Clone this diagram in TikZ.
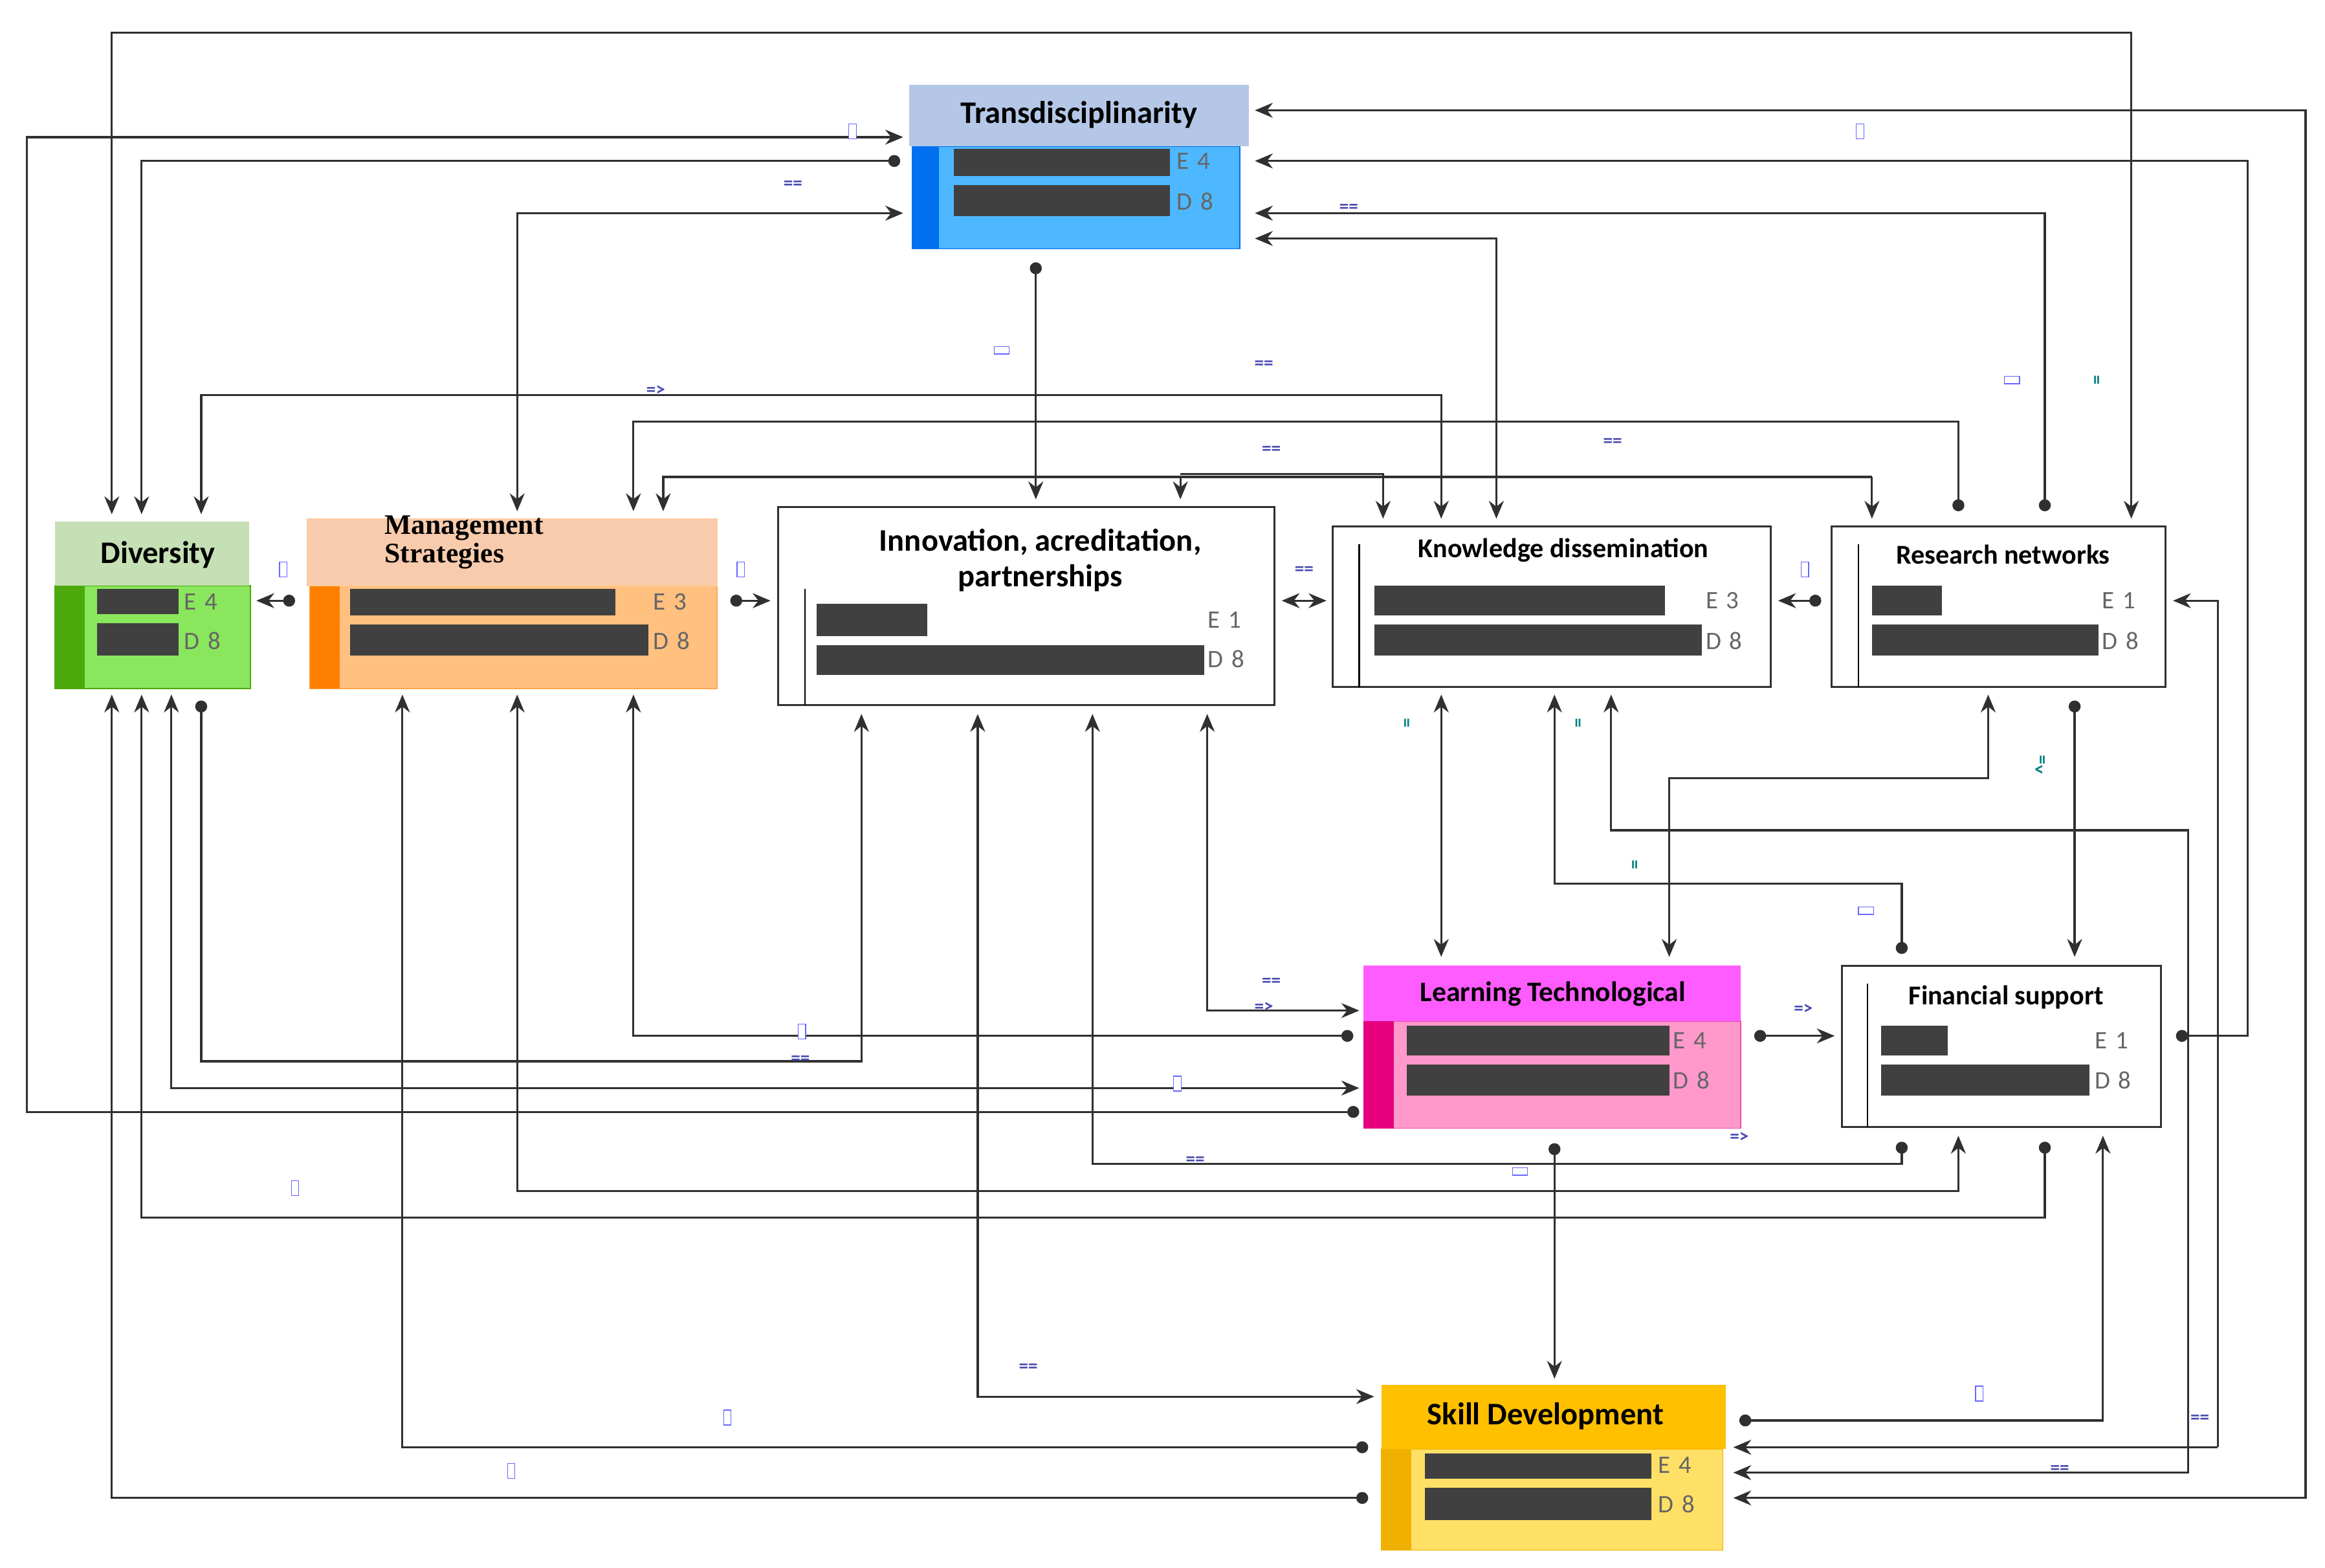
\documentclass[tikz,border=0pt]{standalone}
\usepackage{fontspec}
\setmainfont{Carlito}
\newfontfamily\serifx{Liberation Serif}
\usetikzlibrary{arrows.meta}
\definecolor{bar}{HTML}{404040}
\definecolor{ln}{HTML}{303030}
\definecolor{trh}{HTML}{B4C7E7}
\definecolor{trb}{HTML}{4DB8FF}
\definecolor{trs}{HTML}{0070F0}
\definecolor{dvh}{HTML}{C5E0B4}
\definecolor{dvb}{HTML}{8AE65C}
\definecolor{dvs}{HTML}{4CA90C}
\definecolor{mnh}{HTML}{F8CBAD}
\definecolor{mnb}{HTML}{FFC080}
\definecolor{mns}{HTML}{FF7F00}
\definecolor{lnh}{HTML}{FF5CFF}
\definecolor{lnb}{HTML}{FF99CC}
\definecolor{lns}{HTML}{E6007E}
\definecolor{skh}{HTML}{FFC000}
\definecolor{skb}{HTML}{FFE066}
\definecolor{sks}{HTML}{F0B000}
\tikzset{
  x=0.5mm,y=-0.5mm,
  ar/.style={line width=2pt,draw=ln,-{Stealth[length=6mm,width=5mm]}},
  da/.style={line width=2pt,draw=ln,{Circle[length=4mm]}-{Stealth[length=6mm,width=5mm]}},
  aa/.style={line width=2pt,draw=ln,{Stealth[length=6mm,width=5mm]}-{Stealth[length=6mm,width=5mm]}},
  bx/.style={anchor=north west,inner sep=0pt,outer sep=0pt},
  ttl/.style={font=\fontsize{30}{34}\selectfont\bfseries},
  ed/.style={font=\fontsize{24}{26}\selectfont,text=black!60,anchor=west},
  eq/.style={font=\fontsize{18}{20}\selectfont\bfseries,text=blue!40!gray},
  sq/.style={draw=blue!60,line width=0.8pt,fill=white,minimum width=2.5mm,minimum height=5mm,inner sep=0pt}
}
\newcommand\rbox[6]{\node[bx,minimum width=#4*0.5mm,minimum height=#5*0.5mm,#6] (#1) at (#2,#3) {};}
\begin{document}
\begin{tikzpicture}
\useasboundingbox (0,0) rectangle (1560,1052);
\fill[white] (0,0) rectangle (1560,1052);
% ---- Transdisciplinarity
\rbox{trans}{612}{98}{220}{69}{fill=trb,draw=trs,line width=1pt}
\fill[trs] (612,98) rectangle (630,167);
\rbox{transh}{610}{57}{228}{41}{fill=trh}
\fill[bar] (640,100) rectangle (785,118); \fill[bar] (640,124) rectangle (785,145);
\node[ed] at (787,108) {E\,\,4}; \node[ed] at (787,135) {D\,\,8};
\node[ttl] at (724,77) {Transdisciplinarity};
% ---- Diversity
\rbox{div}{37}{393}{131}{69}{fill=dvb,draw=dvs,line width=1pt}
\fill[dvs] (37,393) rectangle (57,462);
\rbox{divh}{37}{350}{130}{43}{fill=dvh}
\fill[bar] (65,395) rectangle (120,412); \fill[bar] (65,418) rectangle (120,440);
\node[ed] at (121,404) {E\,\,4}; \node[ed] at (121,430) {D\,\,8};
\node[ttl] at (106,372) {Diversity};
% ---- Management
\rbox{man}{208}{393}{273}{69}{fill=mnb,draw=mns!70,line width=1pt}
\fill[mns] (208,393) rectangle (228,462);
\rbox{manh}{206}{348}{275}{45}{fill=mnh,draw=orange!40,line width=1pt}
\fill[bar] (235,395) rectangle (413,413); \fill[bar] (235,419) rectangle (435,440);
\node[ed] at (436,404) {E\,\,3}; \node[ed] at (436,430) {D\,\,8};
\node[font=\serifx\fontsize{27}{27}\selectfont\bfseries,align=left,anchor=north west,inner sep=0pt] at (258,346) {Management\\Strategies};
% ---- Innovation
\rbox{inn}{522}{340}{333}{133}{draw=ln,line width=1.8pt,fill=white}
\draw[line width=1.5pt] (540,395) -- (540,473);
\fill[bar] (548,405) rectangle (622,427); \fill[bar] (548,433) rectangle (808,453);
\node[ed] at (808,416) {E\,\,1}; \node[ed] at (808,442) {D\,\,8};
\node[ttl,align=center] at (698,376) {Innovation, acreditation,\\partnerships};
% ---- Knowledge
\rbox{kno}{894}{353}{294}{108}{draw=ln,line width=1.8pt,fill=white}
\draw[line width=1.5pt] (912,365) -- (912,461);
\fill[bar] (922,393) rectangle (1117,413); \fill[bar] (922,419) rectangle (1142,440);
\node[ed] at (1142,403) {E\,\,3}; \node[ed] at (1142,430) {D\,\,8};
\node[ttl,font=\fontsize{26}{30}\selectfont\bfseries] at (1049,369) {Knowledge dissemination};
% ---- Research
\rbox{res}{1229}{353}{224}{108}{draw=ln,line width=1.8pt,fill=white}
\draw[line width=1.5pt] (1247,365) -- (1247,461);
\fill[bar] (1256,393) rectangle (1303,413); \fill[bar] (1256,419) rectangle (1408,440);
\node[ed] at (1408,403) {E\,\,1}; \node[ed] at (1408,430) {D\,\,8};
\node[ttl,font=\fontsize{26}{30}\selectfont\bfseries] at (1344,372) {Research networks};
% ---- Learning
\rbox{lea}{915}{685}{253}{72}{fill=lnb,draw=lns!70,line width=1pt}
\fill[lns] (915,685) rectangle (935,757);
\rbox{leah}{915}{648}{253}{37}{fill=lnh}
\fill[bar] (944,688) rectangle (1120,708); \fill[bar] (944,714) rectangle (1120,735);
\node[ed] at (1120,698) {E\,\,4}; \node[ed] at (1120,725) {D\,\,8};
\node[ttl,font=\fontsize{27}{30}\selectfont\bfseries] at (1042,667) {Learning Technological};
% ---- Financial
\rbox{fin}{1236}{648}{214}{108}{draw=ln,line width=1.8pt,fill=white}
\draw[line width=1.5pt] (1253,660) -- (1253,756);
\fill[bar] (1262,688) rectangle (1307,708); \fill[bar] (1262,714) rectangle (1402,735);
\node[ed] at (1403,698) {E\,\,1}; \node[ed] at (1403,725) {D\,\,8};
\node[ttl,font=\fontsize{26}{30}\selectfont\bfseries] at (1346,669) {Financial support};
% ---- Skill
\rbox{ski}{927}{972}{229}{68}{fill=skb,draw=sks,line width=1pt}
\fill[sks] (927,929) rectangle (947,1040);
\rbox{skih}{927}{929}{231}{43}{fill=skh}
\fill[bar] (956,975) rectangle (1108,992); \fill[bar] (956,998) rectangle (1108,1020);
\node[ed] at (1110,983) {E\,\,4}; \node[ed] at (1110,1009) {D\,\,8};
\node[ttl] at (1037,950) {Skill Development};
% ---- connectors
\draw[aa] (75,345) -- (75,22) -- (1430,22) -- (1430,348);
\draw[da] (912,746) -- (18,746) -- (18,92) -- (606,92);
\draw[da] (604,108) -- (95,108) -- (95,345);
\draw[aa] (347,343) -- (347,143) -- (606,143);
\draw[aa] (842,74) -- (1547,74) -- (1547,1005) -- (1163,1005);
\draw[da] (1460,695) -- (1508,695) -- (1508,108) -- (842,108);
\draw[ar] (1488,971) -- (1163,971);
\draw[ar] (1488,971) -- (1488,403) -- (1458,403);
\draw[da] (1372,343) -- (1372,143) -- (842,143);
\draw[aa] (842,160) -- (1004,160) -- (1004,348);
\draw[da] (695,176) -- (695,335);
\draw[aa] (135,345) -- (135,265) -- (967,265) -- (967,348);
\draw[da] (1314,343) -- (1314,283) -- (425,283) -- (425,343);
\draw[ar] (1256,320) -- (1256,348);
\draw[ar] (1256,320) -- (445,320) -- (445,343);
\draw[ar] (792,320) -- (792,335);
\draw[ar] (792,318) -- (928,318) -- (928,348);
\draw[da] (198,403) -- (172,403);
\draw[da] (490,403) -- (517,403);
\draw[aa] (860,403) -- (890,403);
\draw[da] (1222,403) -- (1193,403);
\draw[aa] (967,466) -- (967,642);
\draw[da] (1276,640) -- (1276,593) -- (1043,593) -- (1043,466);
\draw[aa] (1081,466) -- (1081,557) -- (1468,557) -- (1468,988) -- (1163,988);
\draw[aa] (1334,466) -- (1334,522) -- (1120,522) -- (1120,642);
\draw[da] (1392,470) -- (1392,642);
\draw[da] (1177,695) -- (1231,695);
\draw[da] (1043,767) -- (1043,925);
\draw[aa] (810,479) -- (810,678) -- (912,678);
\draw[da] (1276,766) -- (1276,781) -- (733,781) -- (733,479);
\draw[aa] (656,479) -- (656,937) -- (922,937);
\draw[da] (135,470) -- (135,712) -- (578,712) -- (578,479);
\draw[da] (908,695) -- (425,695) -- (425,466);
\draw[aa] (115,466) -- (115,730) -- (912,730);
\draw[aa] (347,466) -- (347,799) -- (1314,799) -- (1314,762);
\draw[da] (1372,766) -- (1372,817) -- (95,817) -- (95,466);
\draw[da] (1167,953) -- (1411,953) -- (1411,762);
\draw[da] (918,971) -- (270,971) -- (270,466);
\draw[da] (918,1005) -- (75,1005) -- (75,466);
% ---- small labels
\foreach \p in {(572,88),(1248,88),(190,382),(497,382),(1211,382),(538,692),(790,727),(198,797),(1328,935),(488,951),(343,987)}
  \node[sq] at \p {};
\foreach \p in {(672,235),(1350,255),(1252,611),(1020,786)}
  \node[sq,minimum width=5mm,minimum height=2.5mm] at \p {};
\foreach \p/\t in {(532,124)/==,(905,140)/==,(848,245)/==,(440,262)/=>,(853,302)/==,(1082,297)/==,(875,383)/==,
  (853,659)/==,(848,676)/=>,(1210,677)/=>,(537,711)/==,(802,779)/==,(1167,763)/=>,(690,918)/==,(1476,952)/==,(1382,986)/==}
  \node[eq] at \p {\t};
\foreach \p/\t in {(1408,255)/=,(945,485)/=,(1060,485)/=,(1098,580)/=,(1370,513)/{\^{}=}}
  \node[eq,rotate=90,text=teal] at \p {\t};
\end{tikzpicture}
\end{document}
